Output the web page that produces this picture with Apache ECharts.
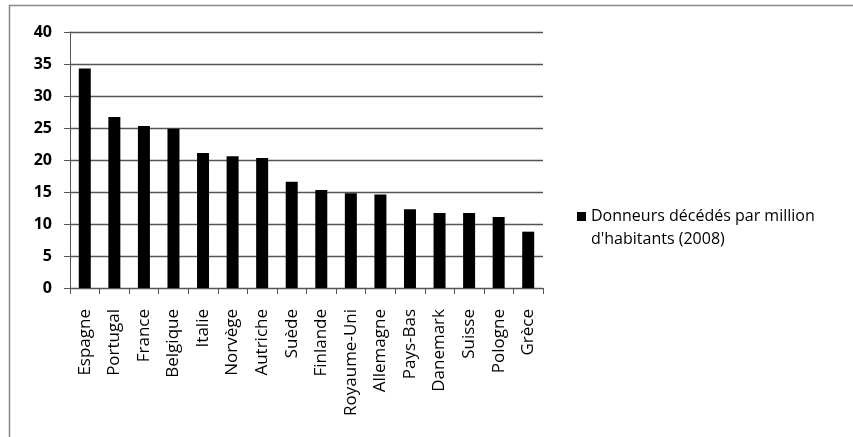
<!DOCTYPE html>
<html><head><meta charset="utf-8">
<script src="https://cdn.jsdelivr.net/npm/echarts@6/dist/echarts.min.js"></script>
<style>html,body{margin:0;padding:0;background:#fff}#c{width:853px;height:437px}</style>
</head><body><div id="c"></div>
<script>
const categories = ['Espagne','Portugal','France','Belgique','Italie','Norvège','Autriche','Suède','Finlande','Royaume-Uni','Allemagne','Pays-Bas','Danemark','Suisse','Pologne','Grèce'];
const values = [34.3, 26.7, 25.3, 24.9, 21.1, 20.6, 20.3, 16.6, 15.3, 14.8, 14.6, 12.3, 11.7, 11.7, 11.1, 8.8];
const seriesName = "Donneurs décédés par million\nd'habitants (2008)";
const yTicks = {min: 0, max: 40, interval: 5};

const font = '"Open Sans", Lato, sans-serif';
const chart = echarts.init(document.getElementById('c'));
chart.setOption({
  animation: false,
  backgroundColor: '#fff',
  textStyle: {fontFamily: font},
  grid: {left: 70, right: 310, top: 32, bottom: 149, containLabel: false},
  graphic: [
    {type: 'line', shape: {x1: 9, y1: 5.5, x2: 853, y2: 5.5}, style: {stroke: '#888', lineWidth: 1.5}},
    {type: 'line', shape: {x1: 9.5, y1: 5, x2: 9.5, y2: 437}, style: {stroke: '#888', lineWidth: 1.5}}
  ],
  legend: {
    orient: 'vertical', left: 577, top: 182, padding: 0,
    itemWidth: 9, itemHeight: 9, itemGap: 0,
    icon: 'rect',
    formatter: function (n) { return '\n' + n; },
    textStyle: {fontFamily: font, fontSize: 16, color: '#000', lineHeight: 23},
    data: [seriesName]
  },
  xAxis: {
    type: 'category', data: categories,
    axisLine: {lineStyle: {color: '#555', width: 1}},
    axisTick: {show: true, length: 6, alignWithLabel: false, lineStyle: {color: '#555'}},
    axisLabel: {rotate: 90, interval: 0, color: '#000', fontSize: 17, fontFamily: font, margin: 21}
  },
  yAxis: {
    type: 'value', min: yTicks.min, max: yTicks.max, interval: yTicks.interval,
    axisLine: {show: true, lineStyle: {color: '#555', width: 1}},
    axisTick: {show: true, length: 6, lineStyle: {color: '#555'}},
    axisLabel: {color: '#000', fontSize: 16, fontWeight: 'bold', fontFamily: font, margin: 18},
    splitLine: {lineStyle: {color: '#555', width: 1.3}}
  },
  series: [{
    name: seriesName, type: 'bar', data: values,
    barWidth: 12,
    itemStyle: {color: '#000'}
  }]
});
</script></body></html>
